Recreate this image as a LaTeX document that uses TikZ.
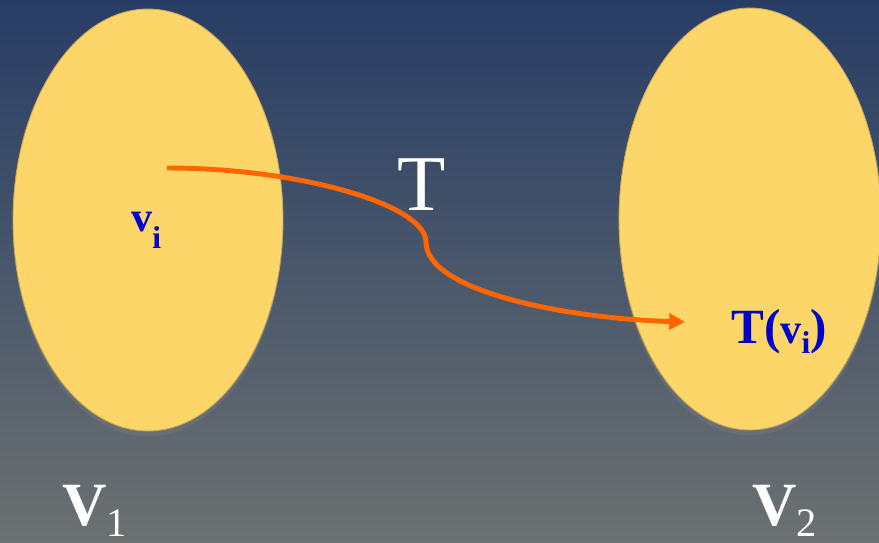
\documentclass[tikz,border=0pt]{standalone}
\usepackage{fontspec}
\setmainfont{Liberation Serif}
\usetikzlibrary{shapes.geometric, arrows.meta, shadows}
\usepackage{xcolor}
\definecolor{slidetop}{RGB}{40,61,101}
\definecolor{slidebottom}{RGB}{108,113,113}
\definecolor{setyellow}{RGB}{253,214,106}
\definecolor{maporange}{RGB}{255,102,0}
\definecolor{labelblue}{RGB}{0,0,200}

\begin{document}
\begin{tikzpicture}[x=0.02cm, y=-0.02cm,
        setoval/.style={ellipse, draw=setyellow!80!black, line width=0.5pt, fill=setyellow, inner sep=0pt,
            drop shadow={opacity=0.35, shadow xshift=0pt, shadow yshift=-3pt}},
        setname/.style={anchor=base west, inner sep=0pt, text=white, font=\bfseries\fontsize{35}{35}\selectfont},
        elemlabel/.style={anchor=base west, inner sep=0pt, text=labelblue, font=\bfseries},
        maparrow/.style={-{Triangle[length=9pt, width=9pt]}, line width=2.8pt, draw=maporange}
    ]

        % background and page size
        \useasboundingbox (0,0) rectangle (879,542);
        \shade[top color=slidetop, bottom color=slidebottom] (0,0) rectangle (879,542);

        \node[setoval, minimum width=5.4cm, minimum height=8.44cm] (vone) at (148,220) {};
        \node[setoval, minimum width=5.24cm, minimum height=8.44cm] (vtwo) at (750,219) {};

        \node[elemlabel, font=\bfseries\fontsize{24}{24}\selectfont] (vi) at (131,231)
            {v\raisebox{-10pt}{\fontsize{18}{18}\selectfont i}};
        \node[elemlabel, font=\bfseries\fontsize{28}{28}\selectfont] (tvi) at (731,343)
            {T({\fontsize{24}{24}\selectfont v}\raisebox{-6pt}{\fontsize{18}{18}\selectfont i})};

        \node[anchor=base, inner sep=0pt, text=white, font=\fontsize{45}{45}\selectfont] (tmap) at (422,210) {T};

        \node[setname] (vonename) at (62,525) {V\raisebox{-6.5pt}{\mdseries\fontsize{23}{23}\selectfont 1}};
        \node[setname] (vtwoname) at (752,525) {V\raisebox{-6.5pt}{\mdseries\fontsize{23}{23}\selectfont 2}};

        \coordinate (mapstart) at (167,168);
        \coordinate (mapbend) at (426,242);
        \coordinate (mapend) at (685,322);

        \draw[maparrow] (mapstart) .. controls (300,168) and (426,205) .. (mapbend)
            .. controls (426,290) and (560,318) .. (mapend);
    \end{tikzpicture}
\end{document}
